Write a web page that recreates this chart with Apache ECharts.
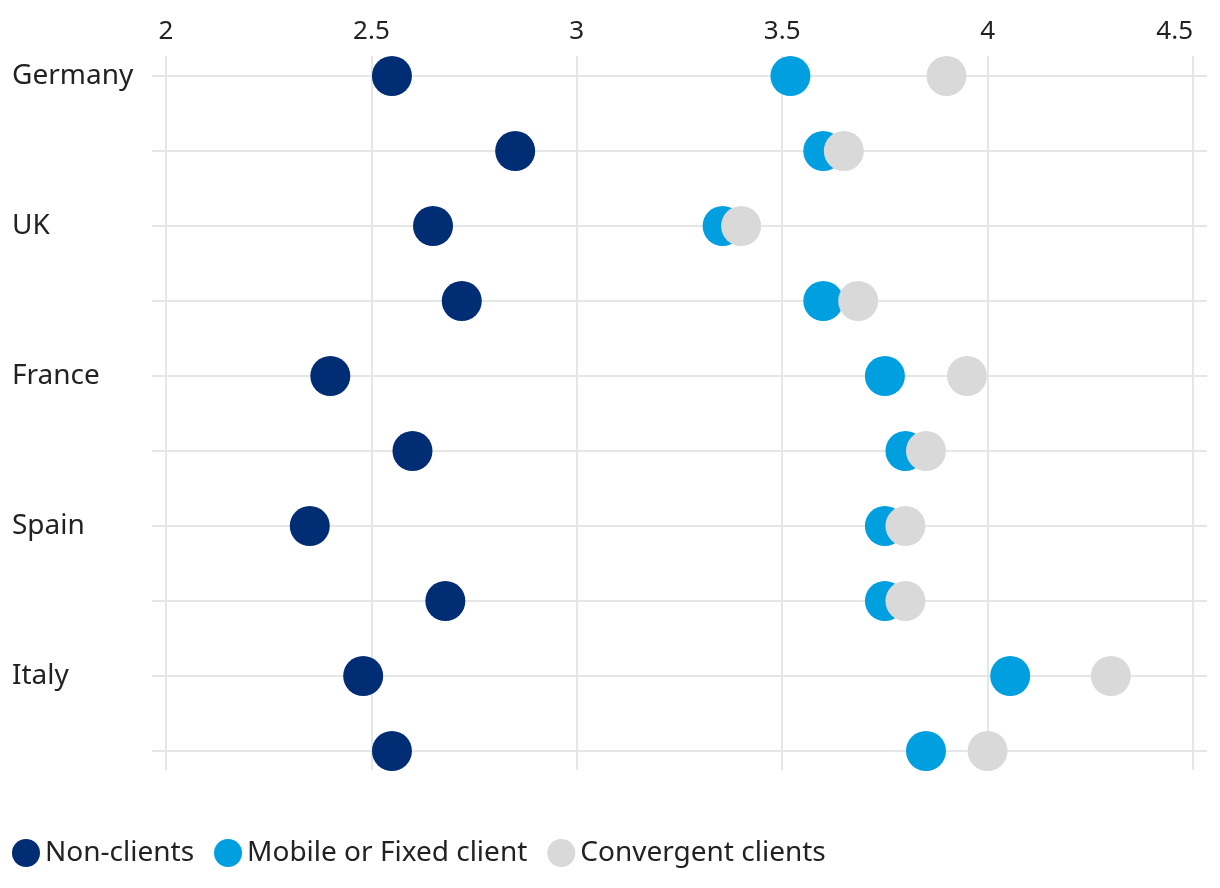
<!DOCTYPE html>
<html>
<head>
<meta charset="utf-8">
<script src="https://cdn.jsdelivr.net/npm/echarts@6/dist/echarts.min.js"></script>
<style>html,body{margin:0;padding:0;background:#fff}#c{width:1220px;height:888px}</style>
</head>
<body>
<div id="c"></div>
<script>
const rowIds = ['r0','r1','r2','r3','r4','r5','r6','r7','r8','r9'];
const rowLabels = ['Germany','','UK','','France','','Spain','','Italy',''];
const seriesNames = ['Non-clients','Mobile or Fixed client','Convergent clients'];
const nonClients = [2.55, 2.85, 2.65, 2.72, 2.40, 2.60, 2.35, 2.68, 2.48, 2.55];
const mobileFixed = [3.52, 3.60, 3.355, 3.60, 3.75, 3.80, 3.75, 3.75, 4.055, 3.85];
const convergent = [3.90, 3.65, 3.40, 3.685, 3.95, 3.85, 3.80, 3.80, 4.30, 4.00];
const xMin = 2, xMax = 4.5, xStep = 0.5;

const colors = ['#002D74', '#009FE0', '#D9D9D9'];
const font = 'Noto Sans';
const gridColor = '#e6e6e6';

const chart = echarts.init(document.getElementById('c'));
chart.setOption({
  animation: false,
  textStyle: { fontFamily: font },
  legend: {
    left: 7, top: 834,
    itemWidth: 28, itemHeight: 28, itemGap: 20,
    icon: 'circle',
    textStyle: { fontFamily: font, fontSize: 28, color: '#222' },
    data: seriesNames
  },
  grid: [
    { left: 152, right: 13, top: 76, bottom: 137 },
    { left: 166, right: 27, top: 56, bottom: 118 },
    { left: 166, right: 27, top: 76, bottom: 137 }
  ],
  xAxis: [
    { gridIndex: 0, type: 'value', show: false, min: 0, max: 1 },
    { gridIndex: 1, type: 'value', position: 'top', min: xMin, max: xMax, interval: xStep,
      axisLine: { show: false }, axisTick: { show: false },
      axisLabel: { fontFamily: font, fontSize: 26, color: '#222', margin: 11, alignMaxLabel: 'right' },
      splitLine: { show: true, lineStyle: { color: gridColor, width: 2 } } },
    { gridIndex: 2, type: 'value', show: false, min: xMin, max: xMax }
  ],
  yAxis: [
    { gridIndex: 0, type: 'category', data: rowIds, inverse: true, boundaryGap: false,
      axisLine: { show: false }, axisTick: { show: false },
      axisLabel: { fontFamily: font, fontSize: 28, color: '#222', align: 'left', margin: 140,
        padding: [3, 0, 0, 0], formatter: (v, i) => rowLabels[i] },
      splitLine: { show: true, lineStyle: { color: gridColor, width: 2 } } },
    { gridIndex: 1, type: 'value', show: false, min: 0, max: 1, splitLine: { show: false } },
    { gridIndex: 2, type: 'category', data: rowIds, inverse: true, boundaryGap: false, show: false }
  ],
  series: [nonClients, mobileFixed, convergent].map((vals, k) => ({
    name: seriesNames[k],
    type: 'scatter',
    xAxisIndex: 2, yAxisIndex: 2,
    symbolSize: 40,
    itemStyle: { color: colors[k], opacity: 1 },
    emphasis: { disabled: true },
    z: 2 + k,
    data: vals.map((v, i) => [v, rowIds[i]])
  }))
});
</script>
</body>
</html>
